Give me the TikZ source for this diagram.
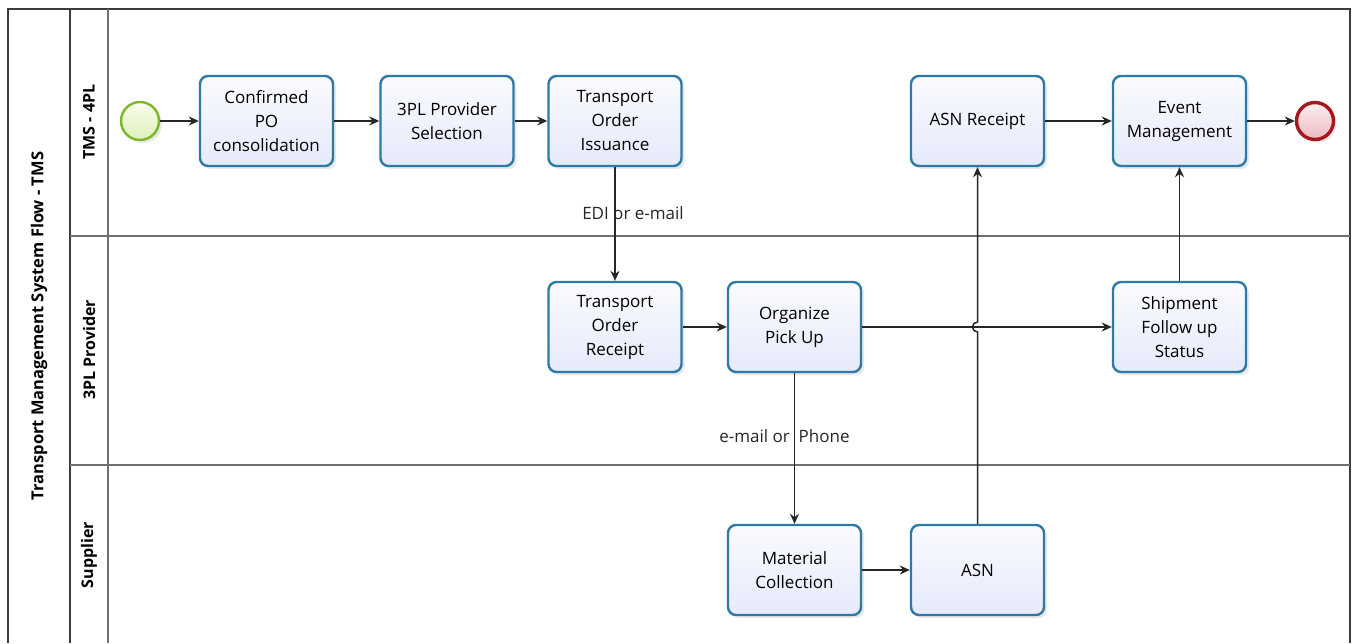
\documentclass[tikz,border=0pt]{standalone}
\usepackage{fontspec}
\setmainfont{Open Sans}
\usetikzlibrary{arrows.meta,positioning,shadows}

\definecolor{taskLine}{RGB}{46,122,166}
\definecolor{taskTop}{RGB}{250,251,255}
\definecolor{taskBot}{RGB}{230,234,250}
\definecolor{startLine}{RGB}{122,184,40}
\definecolor{startTop}{RGB}{250,253,238}
\definecolor{startBot}{RGB}{222,240,186}
\definecolor{endLine}{RGB}{168,22,30}
\definecolor{endTop}{RGB}{253,238,239}
\definecolor{endBot}{RGB}{234,186,192}
\definecolor{poolLine}{RGB}{60,60,60}
\definecolor{laneLine}{RGB}{112,112,112}

\tikzset{
	task/.style={rectangle,rounded corners=8pt,draw=taskLine,line width=2.4pt,
		top color=taskTop,bottom color=taskBot,
		drop shadow={shadow xshift=3pt,shadow yshift=-3pt,opacity=.18},
		minimum width=133pt,minimum height=90pt,inner sep=0pt,align=center,
		font=\fontsize{17}{24}\selectfont},
	startev/.style={circle,draw=startLine,line width=2.4pt,top color=startTop,bottom color=startBot,
		minimum size=38pt,inner sep=0pt,
		drop shadow={shadow xshift=3pt,shadow yshift=-3pt,opacity=.18}},
	endev/.style={circle,draw=endLine,line width=3.4pt,top color=endTop,bottom color=endBot,
		minimum size=37pt,inner sep=0pt,
		drop shadow={shadow xshift=3pt,shadow yshift=-3pt,opacity=.18}},
	flow/.style={-{Stealth[length=10pt,width=9pt]},line width=1.5pt,black!85},
	lanename/.style={rotate=90,font=\bfseries\fontsize{16}{18}\selectfont},
	msg/.style={font=\fontsize{17}{20}\selectfont,inner sep=0pt}
}

\begin{document}
\begin{tikzpicture}[x=1pt,y=-1pt,on grid]
	\useasboundingbox (0,0) rectangle (1355,643);

	% pool and lanes
	\draw[poolLine,line width=2pt] (8,643) -- (8,9) -- (1350,9) -- (1350,643);
	\draw[poolLine,line width=2pt] (70,9) -- (70,643);
	\draw[laneLine,line width=2pt] (108,9) -- (108,643);
	\draw[laneLine,line width=2.4pt] (70,236) -- (1350,236);
	\draw[laneLine,line width=2.4pt] (70,465) -- (1350,465);

	\node[lanename,font=\bfseries\fontsize{16.5}{20}\selectfont] (pool) at (39,326) {Transport Management System Flow - TMS};
	\node[lanename] (laneTMS) at (89,122) {TMS - 4PL};
	\node[lanename] (lane3PL) at (89,350) {3PL Provider};
	\node[lanename] (laneSup) at (89,555) {Supplier};

	% tasks
	\node[task] (poConsol) at (266.5,121) {Confirmed\\PO\\consolidation};
	\node[startev] [left=126.5pt of poConsol] (start) {};
	\node[task] [right=180.5pt of poConsol] (provSel) {3PL Provider\\Selection};
	\node[task] [right=168pt of provSel] (ordIss) {Transport\\Order\\Issuance};
	\node[task] [right=362.5pt of ordIss] (asnRec) {ASN Receipt};
	\node[task] [right=202pt of asnRec] (evMgmt) {Event\\Management};
	\node[endev] [right=135.5pt of evMgmt] (end) {};

	\node[task] [below=206pt of ordIss] (ordRec) {Transport\\Order\\Receipt};
	\node[task] [right=179.5pt of ordRec] (pickUp) {Organize\\Pick Up};
	\node[task] [below=206pt of evMgmt] (shipFU) {Shipment\\Follow up\\Status};

	\node[task] [below=243pt of pickUp] (matColl) {Material\\Collection};
	\node[task] [right=183pt of matColl] (asn) {ASN};

	\coordinate (hop) at (asn.north |- pickUp.east);

	% flows
	\draw[flow] (start) -- (poConsol);
	\draw[flow] (poConsol) -- (provSel);
	\draw[flow] (provSel) -- (ordIss);
	\draw[flow] (ordIss) -- (ordRec)
		node[msg,pos=.4,xshift=18pt] {EDI or e-mail};
	\draw[flow] (ordRec) -- (pickUp);
	\draw[flow] (pickUp) -- (shipFU);
	\draw[flow] (pickUp) -- (matColl)
		node[msg,pos=.42,xshift=-10pt] {e-mail or\ \ Phone};
	\draw[flow] (matColl) -- (asn);
	\draw[flow] (asn.north) -- ([yshift=-5pt]hop)
		arc[start angle=-90,end angle=-270,radius=5pt] -- (asnRec.south);
	\draw[flow] (shipFU) -- (evMgmt);
	\draw[flow] (asnRec) -- (evMgmt);
	\draw[flow] (evMgmt) -- (end);
\end{tikzpicture}
\end{document}
